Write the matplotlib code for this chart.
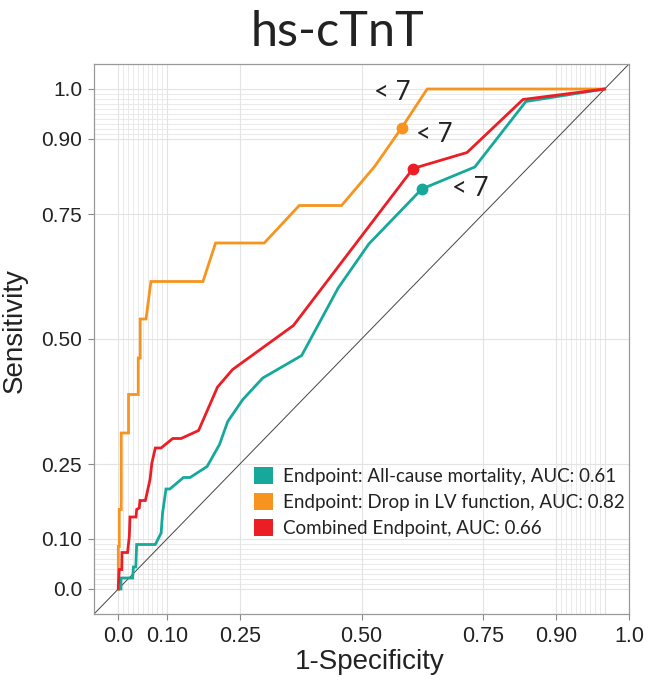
import numpy as np
import matplotlib
matplotlib.use("Agg")
import matplotlib.pyplot as plt
from matplotlib.patches import Patch

# ROC curves (false positive rate, true positive rate)
mort_fpr = [0, 0.0055, 0.0055, 0.0295, 0.031, 0.036, 0.0377, 0.076, 0.088, 0.091, 0.098, 0.106, 0.134,
            0.1475, 0.1825, 0.208, 0.225, 0.256, 0.297, 0.377, 0.452, 0.515, 0.624, 0.733, 0.838, 1.0]
mort_tpr = [0, 0, 0.022, 0.022, 0.044, 0.044, 0.089, 0.089, 0.112, 0.152, 0.2, 0.2, 0.223,
            0.223, 0.245, 0.289, 0.335, 0.379, 0.422, 0.467, 0.602, 0.69, 0.8, 0.844, 0.975, 1.0]

lv_fpr = [0, 0, 0.002, 0.002, 0.006, 0.006, 0.021, 0.021, 0.041, 0.041, 0.045, 0.045, 0.057,
          0.067, 0.174, 0.200, 0.300, 0.372, 0.459, 0.527, 0.583, 0.635, 1.0]
lv_tpr = [0, 0.085, 0.085, 0.159, 0.159, 0.312, 0.312, 0.389, 0.389, 0.462, 0.462, 0.54, 0.54,
          0.615, 0.615, 0.692, 0.692, 0.767, 0.767, 0.845, 0.923, 1.0, 1.0]

comb_fpr = [0, 0, 0.002, 0.007, 0.0075, 0.019, 0.0226, 0.024, 0.0364, 0.0377, 0.043, 0.0446, 0.0556,
            0.0652, 0.069, 0.0761, 0.0878, 0.112, 0.129, 0.165, 0.204, 0.235, 0.36, 0.606, 0.717,
            0.832, 1.0]
comb_tpr = [0, 0.005, 0.039, 0.039, 0.073, 0.073, 0.105, 0.144, 0.144, 0.159, 0.162, 0.177, 0.177,
            0.219, 0.252, 0.282, 0.282, 0.301, 0.301, 0.317, 0.404, 0.439, 0.527, 0.841, 0.873,
            0.979, 1.0]

# cutoff points (hs-cTnT < 7)
cut_fpr = [0.624, 0.583, 0.606]
cut_tpr = [0.80, 0.923, 0.841]
cut_label = "< 7"

names = ["Endpoint: All-cause mortality, AUC: 0.61",
         "Endpoint: Drop in LV function, AUC: 0.82",
         "Combined Endpoint, AUC: 0.66"]
colors = ["#16A89B", "#F7941E", "#EC1D25"]

ticks = [0, 0.10, 0.25, 0.50, 0.75, 0.90]
tick_labels = ["0.0", "0.10", "0.25", "0.50", "0.75", "0.90"]
minor = [i / 100 for i in range(0, 11)] + [i / 100 for i in range(90, 101)]

fig = plt.figure(figsize=(6.52, 6.8), dpi=100)
ax = fig.add_axes([94 / 652, 66 / 680, 535 / 652, 550 / 680])
ax.set_xlim(-0.05, 1.05)
ax.set_ylim(-0.05, 1.05)

# grid
for v in minor:
    ax.axvline(v, color="#e6e6e6", lw=0.6, zorder=0)
    ax.axhline(v, color="#e6e6e6", lw=0.6, zorder=0)
for v in ticks + [1.0]:
    ax.axvline(v, color="#e3e3e3", lw=0.8, zorder=0)
    ax.axhline(v, color="#e3e3e3", lw=0.8, zorder=0)

ax.plot([-0.05, 1.05], [-0.05, 1.05], color="#444444", lw=0.7, zorder=1)

curves = [(mort_fpr, mort_tpr), (lv_fpr, lv_tpr), (comb_fpr, comb_tpr)]
for (fx, ty), c in zip(curves, colors):
    ax.plot(fx, ty, color=c, lw=2.0, solid_joinstyle="miter", zorder=3)

# label offsets in pixels for the "< 7" texts
offsets = [(48, 1), (-10, 35), (21, 34)]
for i in range(3):
    ax.plot(cut_fpr[i], cut_tpr[i], "o", color=colors[i], ms=7.5, zorder=4)
    ax.annotate(cut_label, (cut_fpr[i], cut_tpr[i]), xytext=(offsets[i][0] * 0.72, offsets[i][1] * 0.72),
                textcoords="offset points", ha="center", va="center", fontsize=18.5,
                family="Lato", color="#222222")

ax.set_xticks(ticks + [1.05])
ax.set_xticklabels(tick_labels + ["1.0"], fontsize=15.5, family="Liberation Sans", color="#222222")
ax.set_yticks(ticks + [1.0])
ax.set_yticklabels(tick_labels + ["1.0"], fontsize=15, family="Liberation Sans", color="#222222")
ax.tick_params(length=4, width=0.8, color="#888888", pad=4.5)
for s in ax.spines.values():
    s.set_color("#999999")
    s.set_linewidth(0.9)

fig.text(370 / 652, 1 - 662 / 680, "1-Specificity", ha="center", va="center", fontsize=20,
         family="Liberation Sans", color="#222222")
fig.text(15 / 652, 1 - 331 / 680, "Sensitivity", ha="center", va="center", rotation=90, fontsize=20,
         family="Liberation Sans", color="#222222")
fig.text(337.5 / 652, 1 - 46 / 680, "hs-cTnT", ha="center", va="baseline", fontsize=35,
         family="Lato", color="#222222")

handles = [Patch(facecolor=c, edgecolor="none") for c in colors]
leg = ax.legend(handles, names, loc="upper left", bbox_to_anchor=((254 - 94) / 535, (614 - 467) / 550),
                frameon=False, borderpad=0, borderaxespad=0, handlelength=1.03, handleheight=1.03,
                handletextpad=0.5, labelspacing=0.42, prop={"family": "Lato", "size": 13.5})
for t in leg.get_texts():
    t.set_color("#222222")

fig.savefig("out.png", dpi=100)
